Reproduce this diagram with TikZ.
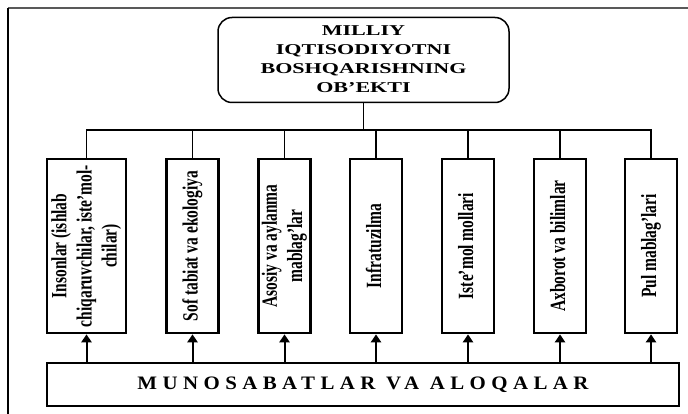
\documentclass[tikz,border=0pt]{standalone}
\usepackage{fontspec}
\usepackage{graphicx}
\setmainfont{Liberation Serif}
\newfontfamily\botfont[LetterSpace=26]{Liberation Serif}
\usetikzlibrary{arrows.meta}
\newcommand{\vlab}[1]{\rotatebox{90}{\scalebox{1}[1.4]{\fontsize{15.5}{18}\selectfont\bfseries\begin{tabular}{@{}c@{}}#1\end{tabular}}}}
\newcommand{\toplab}[1]{\raisebox{-3pt}{\scalebox{1.47}[1]{\fontsize{15}{19}\selectfont\bfseries\begin{tabular}{@{}c@{}}#1\end{tabular}}}}
\newcommand{\botlab}[1]{\scalebox{1.1}[1]{\botfont\fontsize{19}{21}\selectfont\bfseries #1}}
\tikzset{
  vbox/.style={draw, line width=2.6pt, minimum height=174pt, minimum width=52pt, inner sep=0pt},
  topbox/.style={draw, line width=1.5pt, rounded corners=14pt, minimum width=291pt, minimum height=85pt, inner sep=0pt},
  botbox/.style={draw, line width=2pt, minimum width=632pt, minimum height=43pt, inner sep=0pt},
  conn/.style={line width=1.3pt},
  arr/.style={line width=2pt, -{Triangle[width=10pt,length=8pt]}}
}
\begin{document}
\begin{tikzpicture}[x=1pt,y=-1pt]
\useasboundingbox (0,0) rectangle (688,414);
\draw[line width=1.8pt, black!65] (8,8) -- (688,8);
\draw[line width=1.8pt] (8,8) -- (8,414);
\node[topbox] (top) at (363.5,60) {\toplab{MILLIY\\IQTISODIYOTNI\\BOSHQARISHNING\\OB'EKTI}};
\node[vbox, minimum width=79pt] (b1) at (86.5,246) {\vlab{Insonlar (ishlab\\chiqaruvchilar, iste'mol-\\chilar)}};
\node[vbox] (b2) at (192.5,246) {\vlab{Sof tabiat va ekologiya}};
\node[vbox] (b3) at (284.5,246) {\vlab{Asosiy va aylanma\\mablag'lar}};
\node[vbox] (b4) at (376,246) {\vlab{Infratuzilma}};
\node[vbox] (b5) at (468,246) {\vlab{Iste'mol mollari}};
\node[vbox] (b6) at (560,246) {\vlab{Axborot va bilimlar}};
\node[vbox] (b7) at (651,246) {\vlab{Pul mablag'lari}};
\node[botbox] (bot) at (363,384.5) {\botlab{MUNOSABATLAR VA ALOQALAR}};
\coordinate (bus) at (363.5,130);
\draw[conn] (top.south) -- (bus);
\foreach \b in {b1,b2,b3,b4,b5,b6,b7} \draw[conn] (\b.north) |- (bus);
\foreach \b in {b1,b2,b3,b4,b5,b6,b7} \draw[arr] (bot.north -| \b) -- (\b.south);
\end{tikzpicture}
\end{document}
